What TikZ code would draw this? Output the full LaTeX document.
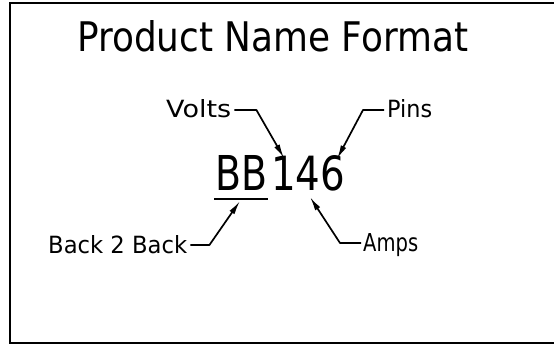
\documentclass[tikz,border=0pt]{standalone}
\usepackage{fontspec}
\setmainfont{DejaVu Sans}
\usepackage{graphicx}
\usetikzlibrary{arrows.meta,calc}
\tikzset{
  txt/.style={inner sep=0pt, anchor=base west, text depth=0pt},
  leader/.style={line width=1.7pt, line join=round, -{Latex[length=14pt,width=6pt]}},
  frame/.style={line width=2pt},
}
\newcommand{\fitt}[3]{\resizebox{#1pt}{#2pt}{#3}}
\begin{document}
\begin{tikzpicture}[x=1pt,y=1pt]
\useasboundingbox (0,0) rectangle (554,345);
% frame (open at right)
\draw[frame] (554,341.5) -- (9.5,341.5) -- (9.5,1.5) -- (554,1.5);
% title
\node[txt] (title) at (77,293) {\fitt{391}{31}{Product Name Format}};
% code
\node[txt] (bb) at (215,154) {\fitt{52}{35}{BB}};
\node[txt] (num) at (271,154) {\fitt{74}{35}{146}};
\coordinate (ul1) at (214,146);
\coordinate (ul2) at (268,146);
\draw[line width=1.6pt] (ul1) -- (ul2);
% labels
\node[txt] (volts) at (166,227) {\fitt{65}{18}{Volts}};
\node[txt] (pins) at (387,227) {\fitt{45}{18}{Pins}};
\node[txt] (amps) at (363,93) {\fitt{55}{18}{Amps}};
\node[txt] (back) at (48,91) {\fitt{139}{18}{Back 2 Back}};
% bends and tips
\coordinate (vs) at ($(volts.east)+(3,-1)$);
\coordinate (vb) at ($(volts.east)+(25,-1)$);
\coordinate (vt) at (284,187);
\coordinate (ps) at ($(pins.west)+(-3,-1)$);
\coordinate (pb) at ($(pins.west)+(-24,-1)$);
\coordinate (pt) at (337,186);
\coordinate (as) at ($(amps.west)+(-2,0)$);
\coordinate (ab) at ($(amps.west)+(-23,0)$);
\coordinate (at) at (310,148);
\coordinate (bks) at ($(back.east)+(3,0)$);
\coordinate (bkb) at ($(back.east)+(22,0)$);
\coordinate (bkt) at (240,144);
\draw[leader] (vs) -- (vb) -- (vt);
\draw[leader] (ps) -- (pb) -- (pt);
\draw[leader] (as) -- (ab) -- (at);
\draw[leader] (bks) -- (bkb) -- (bkt);
\end{tikzpicture}
\end{document}
